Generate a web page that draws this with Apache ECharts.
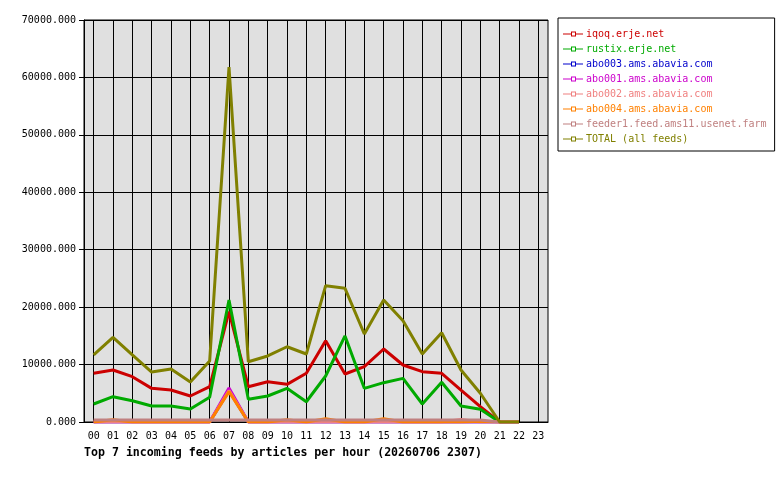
<!DOCTYPE html>
<html lang="en">
<head>
	<meta charset="UTF-8">
	<title>Top 7 incoming feeds</title>
</head>
<body style="margin:0;background:#fff;">
	<div id="container" style="width: 780px;height:480px;"></div>

	<script src="https://cdn.jsdelivr.net/npm/echarts@6/dist/echarts.min.js"></script>
	<script>
        var hours = ['00','01','02','03','04','05','06','07','08','09','10','11',
                     '12','13','14','15','16','17','18','19','20','21','22','23'];

        var iqoq    = [8480, 9050, 7890, 5860, 5570, 4530, 6150, 19200, 6150, 7020, 6560, 8480,
                       14160, 8360, 9630, 12710, 9930, 8760, 8480, 5570, 2670, 0, 0];
        var rustix  = [3130, 4410, 3710, 2790, 2790, 2260, 4300, 21240, 3950, 4530, 5860, 3530,
                       8010, 14980, 5860, 6850, 7600, 3130, 6910, 2790, 2210, 0, 0];
        var abo003  = [0, 0, 0, 0, 0, 0, 0, 5500, 0, 0, 0, 0, 0, 0, 0, 0, 0, 0, 0, 0, 0, 0, 0];
        var abo001  = [0, 0, 0, 0, 0, 0, 0, 5900, 0, 0, 0, 0, 0, 0, 0, 0, 0, 0, 0, 0, 0, 0, 0];
        var abo002  = [0, 0, 0, 0, 0, 0, 0, 5500, 0, 0, 0, 0, 0, 0, 0, 0, 0, 0, 0, 450, 0, 0, 0];
        var abo004  = [0, 400, 0, 0, 0, 0, 0, 5280, 0, 0, 400, 0, 550, 0, 0, 550, 0, 0, 0, 0, 150, 0, 0];
        var feeder1 = [350, 350, 350, 350, 350, 350, 350, 350, 350, 350, 350, 350,
                       350, 350, 350, 350, 350, 350, 350, 350, 350, 0, 0];
        var total   = [11670, 14750, 11670, 8700, 9230, 6960, 10620, 61800, 10500, 11500, 13100, 11840,
                       23740, 23280, 15320, 21240, 17640, 11840, 15550, 9050, 5000, 0, 0];

        var names  = ['iqoq.erje.net', 'rustix.erje.net', 'abo003.ams.abavia.com', 'abo001.ams.abavia.com',
                      'abo002.ams.abavia.com', 'abo004.ams.abavia.com', 'feeder1.feed.ams11.usenet.farm',
                      'TOTAL (all feeds)'];
        var colors = ['#cc0000', '#00aa00', '#0000cc', '#cc00cc', '#f08080', '#ff8000', '#c08080', '#808000'];
        var values = [iqoq, rustix, abo003, abo001, abo002, abo004, feeder1, total];

        var mono = 'DejaVu Sans Mono';
        // thin line with a tiny hollow square in the middle
        var legendIcon = 'path://M0 5L8 5L8 3L13 3L13 5L20 5L20 6L13 6L13 8L8 8L8 6L0 6Z' +
                         'M9 4L9 7L12 7L12 4Z';

        var series = [];
        for (var i = 0; i < names.length; i++) {
            series.push({
                name: names[i],
                type: 'line',
                data: values[i],
                symbol: 'none',
                animation: false,
                silent: true,
                lineStyle: { width: 3, color: colors[i] },
                itemStyle: { color: colors[i] }
            });
        }

        var option = {
            animation: false,
            color: colors,
            title: {
                text: 'Top 7 incoming feeds by articles per hour (20260706 2307)',
                left: 79, top: 442,
                textStyle: { fontFamily: mono, fontSize: 11.6, fontWeight: 'bold', color: '#000' }
            },
            legend: {
                orient: 'vertical',
                left: 558, top: 18,
                padding: [11, 8, 7, 5],
                backgroundColor: '#fff',
                borderColor: '#000',
                borderWidth: 1,
                icon: legendIcon,
                itemWidth: 20,
                itemHeight: 11,
                itemGap: 5,
                selectedMode: false,
                itemStyle: { borderWidth: 0 },
                data: names.map(function (n, i) {
                    return { name: n, textStyle: { color: colors[i] } };
                }),
                textStyle: { fontFamily: mono, fontSize: 10, padding: [0, 0, 0, -2] }
            },
            grid: {
                left: 84, top: 20, right: 232, bottom: 58,
                show: true,
                backgroundColor: '#e0e0e0',
                borderColor: '#000',
                borderWidth: 1
            },
            xAxis: {
                type: 'category',
                data: hours,
                boundaryGap: true,
                axisLine: { lineStyle: { color: '#000', width: 1 } },
                axisTick: { alignWithLabel: true, length: 5, lineStyle: { color: '#000' } },
                axisLabel: { color: '#000', fontFamily: mono, fontSize: 10, margin: 9, interval: 0 },
                splitLine: { show: true, alignWithLabel: true, lineStyle: { color: '#000', width: 1 } }
            },
            yAxis: {
                type: 'value',
                min: 0, max: 70000, interval: 10000,
                axisLine: { show: true, lineStyle: { color: '#000', width: 1 } },
                axisTick: { show: true, length: 5, lineStyle: { color: '#000' } },
                axisLabel: {
                    color: '#000', fontFamily: mono, fontSize: 10, margin: 8,
                    formatter: function (v) { return v.toFixed(3); }
                },
                splitLine: { show: true, lineStyle: { color: '#000', width: 1 } }
            },
            series: series
        };
        var myChart = echarts.init(document.getElementById('container'));
        myChart.setOption(option);
    </script>
</body>
</html>
